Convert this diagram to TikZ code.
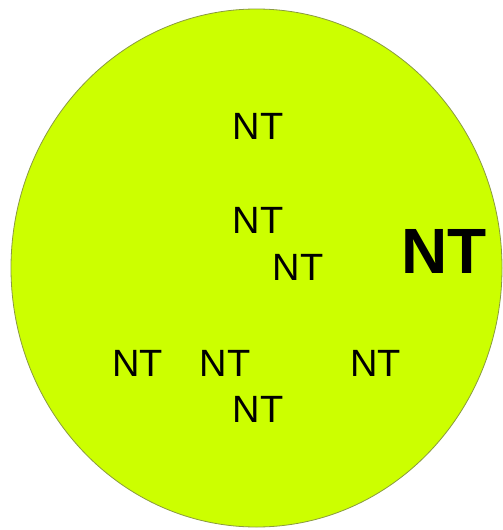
\documentclass[tikz,border=0pt]{standalone}
\usepackage{fontspec}
\setmainfont{Liberation Sans}
\definecolor{lime}{HTML}{CCFF00}
\definecolor{rim}{HTML}{8A9A40}
\begin{document}
\begin{tikzpicture}[x=1pt,y=-1pt,
  lbl/.style={inner sep=0pt,font=\fontsize{38}{38}\selectfont},
  biglbl/.style={inner sep=0pt,font=\fontsize{64}{64}\selectfont\bfseries}]
\useasboundingbox (0,0) rectangle (503,530);
\fill[white] (0,0) rectangle (503,530);
\draw[fill=lime,draw=rim,line width=0.8pt] (256.5,268) ellipse [x radius=245.5,y radius=259];
\node[lbl] (a) at (258,126) {NT};
\node[lbl] (b) at (258,220) {NT};
\node[lbl] (c) at (298,267) {NT};
\node[biglbl] (d) at (444,251) {NT};
\node[lbl] (e) at (137.5,363) {NT};
\node[lbl] (f) at (225,363) {NT};
\node[lbl] (g) at (375.5,363) {NT};
\node[lbl] (h) at (258,409.5) {NT};
\end{tikzpicture}
\end{document}
